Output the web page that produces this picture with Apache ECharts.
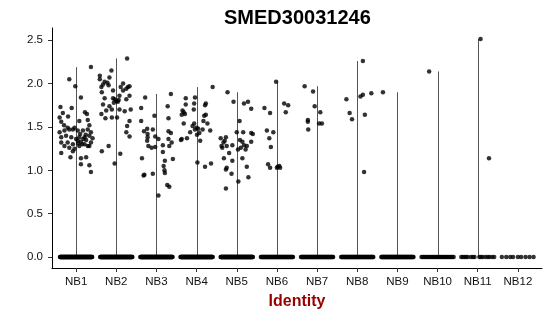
<!DOCTYPE html>
<html><head><meta charset="utf-8">
<script src="https://cdn.jsdelivr.net/npm/echarts@6/dist/echarts.min.js"></script>
<style>html,body{margin:0;padding:0;background:#fff}#c{width:550px;height:316px}</style>
</head><body><div id="c"></div>
<script>
const title = 'SMED30031246';
const xTitle = 'Identity';
const categories = ['NB1','NB2','NB3','NB4','NB5','NB6','NB7','NB8','NB9','NB10','NB11','NB12'];
const yTicks = [0, 0.5, 1.0, 1.5, 2.0, 2.5];

// non-zero expression values per identity
const nb1Values = [2.19,2.05,1.97,1.84,1.73,1.72,1.66,1.67,1.65,1.61,1.56,1.57,1.58,1.49,1.49,1.52,
  1.44,1.46,1.47,1.47,1.46,1.46,1.47,1.44,
  1.38,1.40,1.38,1.36,1.38,1.38,1.40,1.37,
  1.32,1.32,1.30,1.34,1.33,1.35,1.32,
  1.28,1.26,1.25,1.28,1.30,1.28,
  1.22,1.20,1.28,1.15,1.14,1.15,1.07,1.06,0.98,
  1.42,1.36,1.41,1.30,1.31,1.52,1.62];
const nb2Values = [2.29,2.15,2.09,2.05,2.07,2.02,2.01,1.99,1.96,1.98,2.00,1.96,1.96,1.97,1.94,1.90,1.92,1.92,
  1.86,1.82,1.83,1.80,1.79,1.81,1.78,1.83,1.82,1.86,1.76,1.74,1.69,1.70,1.70,1.68,1.70,1.65,
  1.60,1.61,1.61,1.57,1.51,1.44,1.39,1.22,1.28,1.19,1.08];
const nb3Values = [1.88,1.84,1.74,1.72,1.63,1.60,1.57,1.45,1.48,1.47,1.42,1.38,1.34,1.28,1.39,1.36,
  1.45,1.43,1.36,1.32,1.28,1.27,1.26,1.29,1.21,1.13,1.11,1.14,1.05,1.00,0.97,0.95,0.94,0.96,0.83,0.81,0.71];
const nb4Values = [1.96,1.83,1.84,1.76,1.77,1.77,1.75,1.69,1.67,1.65,1.64,1.70,1.64,1.63,1.57,1.54,1.54,1.54,
  1.51,1.49,1.48,1.47,1.47,1.46,1.44,1.43,1.41,1.37,1.36,1.35,1.34,1.09,1.04,1.08];
const nb5Values = [1.90,1.79,1.77,1.79,1.71,1.57,1.44,1.44,1.43,1.42,1.37,1.38,1.34,1.32,1.28,1.28,1.26,
  1.29,1.35,1.33,1.29,1.33,1.24,1.26,1.28,1.24,1.20,1.14,1.11,1.14,1.03,1.01,1.04,0.96,0.92,0.87,0.79];
const nb6Values = [2.02,1.72,1.66,1.77,1.75,1.67,1.46,1.44,1.37,1.27,1.07,1.03,1.04,1.05,1.03,1.03];
const nb7Values = [1.97,1.91,1.74,1.67,1.58,1.56,1.54,1.54,1.47];
const nb8Values = [2.26,1.82,1.85,1.87,1.89,1.66,1.59,1.64,0.98];
const nb9Values = [1.90];
const nb10Values = [2.14];
const nb11Values = [2.515,1.14];
const nb12Values = [];

// number of cells with zero expression (dense band at 0)
const zeroCounts = [120,120,120,120,120,70,70,70,80,30,16,9];

// horizontal jitter of each point (fraction of a category width)
const nb1Jitter = [0.37,-0.17,-0.02,0.12,-0.39,-0.11,-0.33,0.22,0.27,-0.41,-0.37,0.08,0.29,-0.21,-0.04,0.33,
  -0.41,-0.29,-0.17,-0.08,0.04,0.17,0.29,0.37,
  -0.37,-0.25,-0.12,0.0,0.08,0.21,0.33,0.41,
  -0.37,-0.21,-0.08,0.04,0.12,0.25,0.37,
  -0.29,-0.17,-0.04,0.08,0.21,0.29,
  -0.08,-0.37,0.33,-0.14,0.12,0.25,0.12,0.33,0.37,
  0.10,0.18,0.24,0.15,0.05,-0.30,-0.20];
const nb2Jitter = [0.27,-0.12,-0.41,-0.41,-0.17,-0.29,-0.22,-0.33,-0.37,-0.19,0.17,0.11,0.29,0.33,0.25,-0.36,-0.08,0.17,
  0.08,-0.04,-0.08,0.0,0.04,0.06,-0.06,-0.29,0.25,0.33,-0.33,-0.17,-0.25,-0.11,0.08,0.21,0.36,-0.37,
  -0.27,-0.11,0.02,0.33,0.27,0.25,0.33,-0.36,-0.19,0.10,-0.04];
const nb3Jitter = [0.36,-0.28,0.28,-0.38,-0.05,0.30,-0.38,-0.31,-0.23,-0.09,-0.22,-0.22,-0.23,-0.20,-0.03,0.05,
  0.30,0.36,0.30,0.38,0.32,-0.03,-0.12,0.16,0.16,0.41,0.21,-0.36,0.18,0.20,0.21,-0.30,-0.32,-0.09,0.27,0.32,0.05];
const nb4Jitter = [0.40,-0.27,-0.04,-0.27,-0.06,0.23,0.21,-0.35,-0.32,-0.29,-0.37,-0.07,0.23,0.19,0.17,0.27,-0.32,-0.06,
  -0.10,0.0,0.04,-0.04,0.15,0.34,-0.16,0.07,0.01,-0.24,-0.37,-0.39,0.09,0.02,0.21,0.36];
const nb5Jitter = [-0.23,-0.08,0.18,0.28,0.36,0.07,0.0,0.16,0.36,0.40,-0.40,-0.27,-0.30,-0.33,-0.38,-0.25,-0.36,
  -0.11,0.08,0.14,0.18,0.36,0.03,0.10,0.25,0.22,-0.19,-0.32,-0.11,0.14,-0.25,-0.27,0.25,-0.13,0.29,0.04,-0.27];
const nb6Jitter = [-0.02,-0.31,-0.17,0.18,0.28,0.22,-0.25,-0.09,-0.19,-0.15,-0.22,-0.17,0.02,0.06,0.08,0.0];
const nb7Jitter = [-0.31,-0.10,-0.06,0.08,-0.23,-0.23,0.05,0.12,-0.22];
const nb8Jitter = [0.14,-0.27,0.08,0.14,0.35,-0.19,-0.13,0.19,0.17];
const nb9Jitter = [-0.36];
const nb10Jitter = [-0.21];
const nb11Jitter = [0.07,0.28];
const nb12Jitter = [];
const nb11ZeroJitter = [-0.41,-0.37,-0.33,-0.29,-0.25,-0.17,-0.12,-0.08,0.04,0.08,0.12,0.19,0.25,0.29,0.36,0.41];
const nb12ZeroJitter = [-0.40,-0.29,-0.19,-0.12,0,0.08,0.19,0.29,0.39];

const allValues = [nb1Values,nb2Values,nb3Values,nb4Values,nb5Values,nb6Values,nb7Values,nb8Values,nb9Values,nb10Values,nb11Values,nb12Values];
const allJitter = [nb1Jitter,nb2Jitter,nb3Jitter,nb4Jitter,nb5Jitter,nb6Jitter,nb7Jitter,nb8Jitter,nb9Jitter,nb10Jitter,nb11Jitter,nb12Jitter];
const zeroJitterOverride = {10: nb11ZeroJitter, 11: nb12ZeroJitter};

const pts = [];
const zeros = [];
const lines = [];
allValues.forEach((vals, i) => {
  const x = i + 1;
  vals.forEach((v, k) => pts.push([x + allJitter[i][k], v]));
  let zj = zeroJitterOverride[i];
  if (!zj) { zj = []; const n = zeroCounts[i]; for (let k = 0; k < n; k++) zj.push(-0.4 + 0.8 * k / (n - 1)); }
  zj.forEach(j => zeros.push([x + j, 0]));
  if (vals.length) lines.push([x, Math.max(...vals)]);
});

const txt = '#111';
const chart = echarts.init(document.getElementById('c'), null, {renderer: 'canvas'});
chart.setOption({
  animation: false,
  backgroundColor: '#fff',
  title: {text: title, left: 219, top: 3,
    textStyle: {fontFamily: 'Liberation Sans', fontWeight: 'bold', fontSize: 20, color: '#000'}},
  grid: {left: 52, right: 8, top: 28, bottom: 48, containLabel: false, outerBoundsMode: 'none'},
  xAxis: {type: 'value', min: 0.4, max: 12.6,
    name: xTitle, nameLocation: 'middle', nameGap: 26,
    nameTextStyle: {fontFamily: 'Liberation Sans', fontWeight: 'bold', fontSize: 16, color: '#990000'},
    axisLine: {show: true, onZero: false, lineStyle: {color: '#000', width: 1}},
    axisTick: {show: true, length: 4, customValues: categories.map((c, i) => i + 1), lineStyle: {color: '#333'}},
    axisLabel: {customValues: categories.map((c, i) => i + 1), formatter: v => categories[Math.round(v) - 1],
      fontFamily: 'Liberation Sans', fontSize: 11.5, color: txt, margin: 8},
    splitLine: {show: false}},
  yAxis: {type: 'value', min: -0.1258, max: 2.6408,
    axisLine: {show: true, onZero: false, lineStyle: {color: '#000', width: 1}},
    axisTick: {show: true, length: 4, customValues: yTicks, lineStyle: {color: '#333'}},
    axisLabel: {customValues: yTicks, formatter: v => v.toFixed(1),
      fontFamily: 'Liberation Sans', fontSize: 11.5, color: txt, margin: 9},
    splitLine: {show: false}},
  series: [
    {type: 'custom', data: lines, silent: true, z: 1,
      renderItem: (params, api) => {
        const p0 = api.coord([api.value(0), 0]);
        const p1 = api.coord([api.value(0), api.value(1)]);
        const xx = Math.round(p0[0]) + 0.5;
        return {type: 'line', shape: {x1: xx, y1: p0[1], x2: xx, y2: p1[1]},
          style: {stroke: '#555', lineWidth: 1}};
      }},
    {type: 'scatter', data: zeros, symbolSize: 4.5, itemStyle: {color: '#000'}, z: 2, silent: true},
    {type: 'scatter', data: pts, symbolSize: 4.5, itemStyle: {color: '#000'}, z: 3, silent: true}
  ]
});
</script></body></html>
